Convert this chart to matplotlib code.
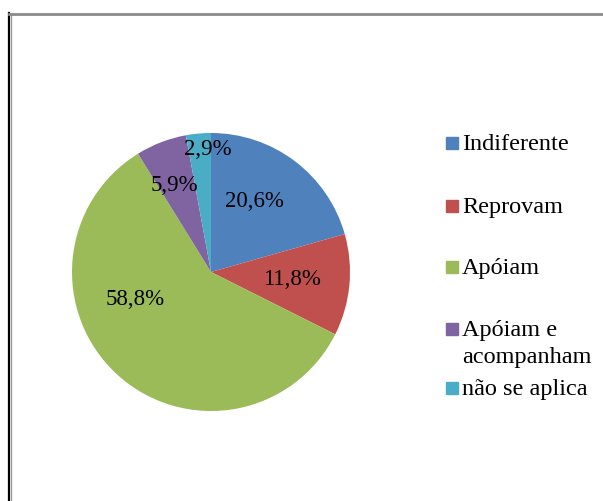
import matplotlib.pyplot as plt
from matplotlib.patches import Rectangle
from matplotlib.lines import Line2D

# data
categories = ['Indiferente', 'Reprovam', 'Apóiam', 'Apóiam e\nacompanham', 'não se aplica']
percents = [20.6, 11.8, 58.8, 5.9, 2.9]
colors = ['#4F81BD', '#C0504D', '#9BBB59', '#8064A2', '#4BACC6']

W, H = 603, 502
fig = plt.figure(figsize=(W / 100, H / 100), dpi=100)
fig.patch.set_facecolor('white')

def fx(px):
    return px / W

def fy(py):
    return 1 - py / H

# outer frame (left + top only, like the cropped excel chart)
fig.add_artist(Line2D([fx(9), fx(9)], [fy(14), 0], color='black', lw=1.6, transform=fig.transFigure))
fig.add_artist(Line2D([fx(11), fx(11)], [fy(16), 0], color='#9a9a9a', lw=1.0, transform=fig.transFigure))
fig.add_artist(Line2D([fx(9), 1], [fy(14.5), fy(14.5)], color='#8a8a8a', lw=2.0, transform=fig.transFigure))

# pie: centre (211, 273), radius 139 px
cx, cy, r = 211, 273, 139
ax = fig.add_axes([fx(cx - r), fy(cy + r), (2 * r) / W, (2 * r) / H])
ax.pie(percents, colors=colors, startangle=90, counterclock=False, radius=1,
       wedgeprops=dict(linewidth=0))
ax.set_xlim(-1, 1)
ax.set_ylim(-1, 1)
ax.set_aspect('auto')
ax.axis('off')

# label positions (radius units from the centre), as excel placed them
label_pos = [(0.313, 0.511), (0.586, -0.05), (-0.547, -0.194), (-0.266, 0.626), (-0.025, 0.885)]
for v, (dx, dy) in zip(percents, label_pos):
    ax.text(dx, dy, f'{v:.1f}%'.replace('.', ','), ha='center', va='center',
            fontsize=16.5, family='Liberation Serif', color='black')

# legend drawn by hand to keep excel's uneven spacing
leg_y = [144, 207, 268, 330, 389]
for name, col, y in zip(categories, colors, leg_y):
    fig.add_artist(Rectangle((fx(446), fy(y + 6)), 12 / W, 12 / H, color=col,
                             transform=fig.transFigure))
    for i, line in enumerate(name.split('\n')):
        fig.text(fx(462), fy(y + 1 + 26 * i), line, ha='left', va='center',
                 fontsize=17.5, family='Liberation Serif', color='black')

fig.savefig('out.png', dpi=100)
